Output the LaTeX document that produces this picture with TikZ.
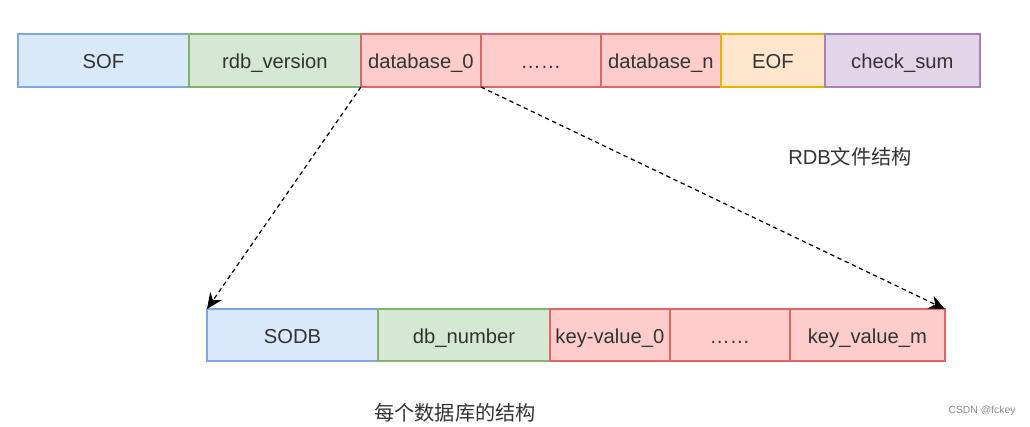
\documentclass[tikz,border=0pt]{standalone}
\usepackage{fontspec}
\setmainfont{Liberation Sans}
\newfontfamily\cjk{Noto Sans CJK SC}
\usetikzlibrary{positioning,arrows.meta}
\definecolor{txt}{HTML}{333333}
\definecolor{blueF}{HTML}{DAE8FC}
\definecolor{blueD}{HTML}{7EA6E0}
\definecolor{greenF}{HTML}{D5E8D4}
\definecolor{greenD}{HTML}{82B366}
\definecolor{redF}{HTML}{FFCCCC}
\definecolor{redD}{HTML}{E06666}
\definecolor{orangeF}{HTML}{FFE6CC}
\definecolor{orangeD}{HTML}{F0B000}
\definecolor{purpleF}{HTML}{E1D5E7}
\definecolor{purpleD}{HTML}{A680B8}
\tikzset{
  cell/.style       = {draw, minimum height=1.06cm, inner sep=0pt, outer sep=0pt,
                       text height=9.6pt, text depth=0pt,
                       line width=0.8pt, text=txt, font=\fontsize{11.5}{13}\selectfont},
  bluecell/.style   = {cell, fill=blueF, draw=blueD},
  greencell/.style  = {cell, fill=greenF, draw=greenD},
  redcell/.style    = {cell, fill=redF, draw=redD},
  orangecell/.style = {cell, fill=orangeF, draw=orangeD},
  purplecell/.style = {cell, fill=purpleF, draw=purpleD},
  wa/.style         = {minimum width=3.42cm},
  wb/.style         = {minimum width=3.44cm},
  wc/.style         = {minimum width=2.4cm},
  wd/.style         = {minimum width=2.08cm},
  we/.style         = {minimum width=3.1cm},
  caption/.style    = {inner sep=0pt, text=txt, font=\fontsize{11.5}{13}\selectfont},
  link/.style       = {line width=0.7pt, dash pattern=on 2.5pt off 2pt,
                       -{Stealth[length=9pt,width=8pt]}}
}

\begin{document}
\begin{tikzpicture}[x=0.02cm,y=-0.02cm]
    \useasboundingbox (0,0) rectangle (1030,426);

    % rdb file layout (top row)
    \node[bluecell,wa,anchor=north west] (sof) at (18,34) {SOF};
    \node[greencell,wb,right=0pt of sof]  (ver) {rdb\_version};
    \node[redcell,wc,right=0pt of ver]    (db0) {database\_0};
    \node[redcell,wc,right=0pt of db0]    (dbdots) {……};
    \node[redcell,wc,right=0pt of dbdots] (dbn) {database\_n};
    \node[orangecell,wd,right=0pt of dbn] (eof) {EOF};
    \node[purplecell,we,right=0pt of eof] (sum) {check\_sum};

    % one database (bottom row)
    \node[bluecell,wa,anchor=north west,minimum height=1.04cm] (sodb) at (207,309) {SODB};
    \node[greencell,wb,minimum height=1.04cm,right=0pt of sodb] (num) {db\_number};
    \node[redcell,wc,minimum height=1.04cm,right=0pt of num]    (kv0) {key-value\_0};
    \node[redcell,wc,minimum height=1.04cm,right=0pt of kv0]    (kvdots) {……};
    \node[redcell,we,minimum height=1.04cm,right=0pt of kvdots] (kvm) {key\_value\_m};

    \draw[link] (db0.south west) -- (sodb.north west);
    \draw[link] (db0.south east) -- (kvm.north east);

    \node[caption] (filecap) at (850,157) {RDB{\cjk 文件结构}};
    \node[caption] (dbcap)   at (455,413) {\cjk 每个数据库的结构};
    \node[inner sep=0pt, text=black!45, font=\fontsize{5.9}{7}\selectfont] (mark) at (982,411) {CSDN @fckey};
\end{tikzpicture}
\end{document}
